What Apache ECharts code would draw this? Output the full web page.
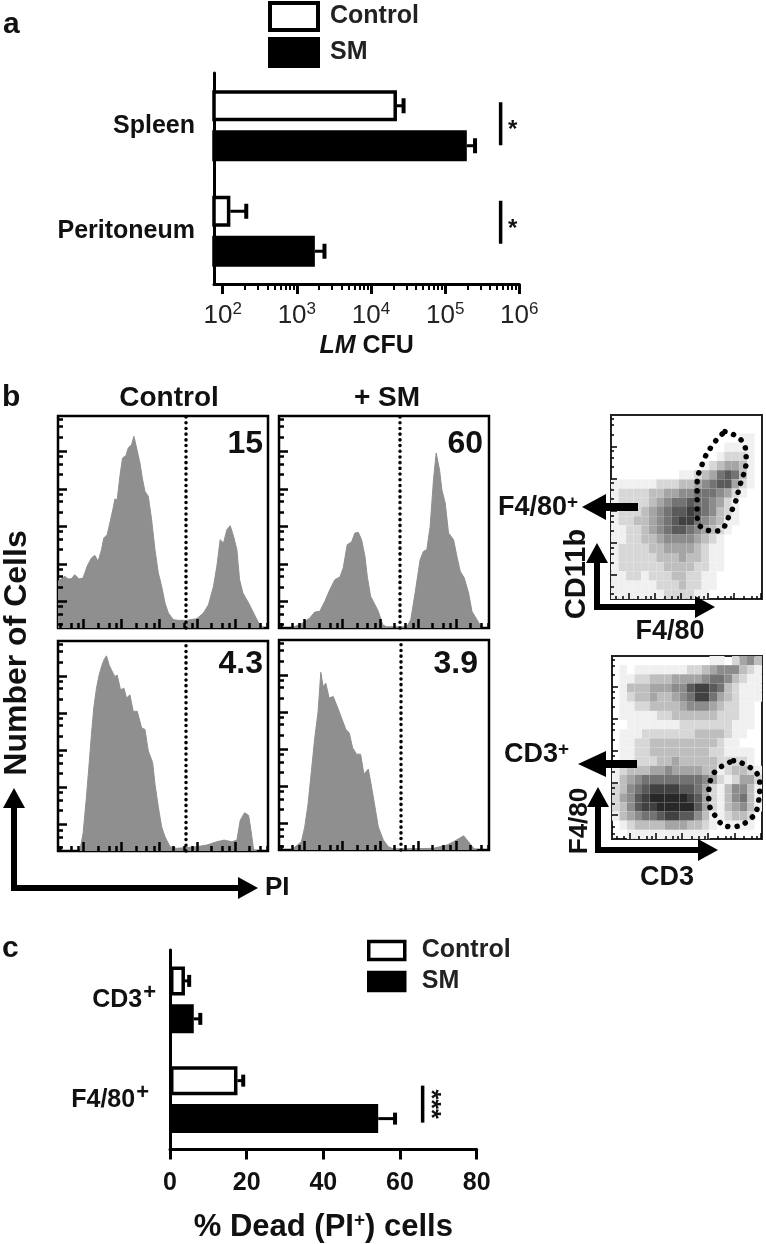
<!DOCTYPE html>
<html>
<head>
<meta charset="utf-8">
<title>LM CFU and PI staining</title>
<style>
  html, body { margin: 0; background: #fff; }
  #chart { width: 766px; height: 1244px; }
</style>
<script src="https://cdn.jsdelivr.net/npm/echarts@6/dist/echarts.min.js"></script>
</head>
<body>
<div id="chart"></div>
<script>
// panel a, CFU on a log axis
const aCategories = ['Spleen', 'Peritoneum']
const aControl = [22400, 127]
const aControlHigh = [27500, 208]
const aSM = [196000, 1750]
const aSMHigh = [253000, 2360]
const aTicks = [100, 1000, 10000, 100000, 1000000]
const aMinorTicks = [200, 300, 400, 500, 600, 700, 800, 900, 2000, 3000, 4000, 5000, 6000, 7000, 8000, 9000,
  20000, 30000, 40000, 50000, 60000, 70000, 80000, 90000, 200000, 300000, 400000, 500000, 600000, 700000, 800000, 900000]
const aSig = [[560000, 0, '*'], [560000, 1, '*']]

// panel c, % dead cells
const cCategories = ['CD3+', 'F4/80+']
const cControl = [3.9, 17.6]
const cControlHigh = [5.0, 19.1]
const cSM = [6.2, 54.3]
const cSMHigh = [7.9, 58.7]
const cSig = [[65.9, 1, '***']]

// panel b, PI histograms: [channel, count]
const histControlTop = [[0, 140], [3, 145], [20, 155], [30, 147], [40, 148], [50, 160], [63, 147], [75, 150], [87, 185], [100, 210], [110, 218], [120, 200], [130, 235], [137, 270], [147, 280], [155, 315], [165, 360], [170, 387], [177, 385], [185, 455], [193, 510], [203, 517], [210, 540], [220, 550], [227, 575], [235, 540], [245, 495], [253, 445], [260, 410], [270, 395], [280, 325], [290, 235], [300, 165], [310, 125], [320, 75], [330, 45], [345, 25], [360, 23], [385, 23], [415, 28], [435, 45], [450, 70], [465, 125], [475, 185], [485, 265], [495, 255], [505, 295], [515, 307], [525, 275], [535, 235], [543, 145], [553, 105], [570, 75], [585, 45], [600, 15], [615, 0]]
const histSMTop = [[37, 0], [72, 15], [92, 30], [107, 48], [122, 50], [137, 80], [152, 115], [167, 145], [182, 153], [192, 180], [204, 250], [217, 258], [227, 285], [237, 287], [247, 265], [257, 215], [264, 155], [274, 95], [287, 70], [297, 50], [310, 10], [322, 3], [382, 3], [394, 25], [407, 105], [422, 205], [432, 230], [442, 235], [452, 305], [462, 445], [470, 525], [480, 475], [487, 415], [497, 375], [507, 285], [522, 265], [532, 215], [542, 170], [554, 150], [567, 105], [577, 50], [592, 25], [607, 0]]
const histControlBottom = [[65, 0], [75, 53], [85, 163], [93, 263], [100, 353], [107, 433], [115, 493], [123, 533], [130, 558], [137, 578], [145, 591], [153, 563], [160, 548], [170, 528], [177, 533], [187, 488], [197, 493], [205, 463], [215, 473], [225, 423], [237, 423], [250, 373], [260, 368], [270, 303], [283, 268], [290, 203], [300, 133], [310, 73], [320, 43], [335, 13], [355, 8], [415, 13], [445, 18], [475, 28], [497, 33], [520, 28], [535, 33], [545, 93], [558, 116], [570, 108], [577, 63], [585, 3], [595, 0]]
const histSMBottom = [[37, 0], [67, 25], [77, 70], [87, 140], [97, 240], [107, 340], [117, 420], [125, 538], [132, 495], [140, 505], [150, 460], [162, 465], [174, 435], [187, 400], [200, 365], [210, 355], [220, 310], [232, 290], [244, 290], [254, 230], [267, 245], [277, 190], [287, 130], [297, 70], [312, 30], [327, 10], [342, 3], [462, 5], [502, 15], [522, 25], [552, 43], [567, 25], [582, 5], [592, 0]]
const histCuts = [382, 360, 383, 363]
const histPercent = ['15', '60', '4.3', '3.9']
const histXTicks = [77, 190, 303, 416, 529]
const histXMinor = [7, 39, 61, 120, 152, 174, 233, 265, 287, 346, 378, 400, 459, 491, 513, 572, 604, 626]
const histYTicks = [80, 192, 305, 417, 530]
const histYMinor = [10, 42, 64, 123, 155, 177, 235, 267, 289, 348, 380, 402, 460, 492, 514, 573, 605, 627]

// dot plots: density read by eye on a 20 x 20 raster, top row first
const dotCD11b = [
  '00000000000000000000',
  '00000000000000000000',
  '00000000000000000110',
  '00000000000000011110',
  '00000000000000122210',
  '00000000000012344310',
  '00000000011234676310',
  '11111122233456774210',
  '12222334455666542100',
  '12222345667665421000',
  '12223456778765321000',
  '12233456788654311000',
  '11223456776543210000',
  '11223345555432100000',
  '12222334444321100000',
  '12222233343321100000',
  '12222223333221100000',
  '11221222332211000000',
  '11111122232211000000',
  '11111112222110000000'
]
const dotCD3 = [
  '00000000000001102453',
  '01011111112234555321',
  '01122333444456653211',
  '01333444557887632111',
  '01233433456886432111',
  '01122333345554322110',
  '01111122333333222110',
  '00111111122222221110',
  '01112222222333321100',
  '01122333333333211000',
  '01122333333332211110',
  '01122233433333222210',
  '12333445444433123321',
  '13456666666654212442',
  '23567888877642135531',
  '24578999998742135631',
  '23578899999742134531',
  '13456678877531123320',
  '01233334443321011110',
  '00111111111110000000'
]
const gateCD11b = [[15.1, 18.2], [17.4, 17.1], [17.9, 15.3], [17.1, 12.4], [15.8, 9.3], [14.0, 7.4], [12.1, 7.7], [11.4, 9.7], [11.4, 12.2], [12.1, 14.7], [13.6, 16.9], [15.1, 18.2]]
const gateCD3 = [[16.2, 8.55], [18.6, 7.7], [19.7, 6.1], [19.5, 3.9], [18.0, 1.9], [15.7, 1.35], [13.7, 2.6], [12.9, 4.6], [13.3, 6.8], [16.2, 8.55]]
const dotXTicks = [2.3, 5.8, 9.3, 12.8, 16.3, 19.8]
const dotXMinor = [3.6, 4.6, 5.3, 7.1, 8.1, 8.8, 10.6, 11.6, 12.3, 14.1, 15.1, 15.8, 17.6, 18.6, 19.3, 0.6, 1.5]
const dotYTicks = [2.6, 6.1, 9.6, 13.1, 16.6]
const dotYMinor = [3.9, 4.9, 5.6, 7.4, 8.4, 9.1, 10.9, 11.9, 12.6, 14.4, 15.4, 16.1, 17.9, 18.9, 19.6, 1.3, 0.6]

const FONT = '"Liberation Sans", Arial, sans-serif'
const grids = []
const xAxes = []
const yAxes = []
const series = []

function addGrid(box) {
  grids.push(Object.assign({ containLabel: false }, box))
  return grids.length - 1
}

// plain bar panel (a and c) share this
function addBars(g, cats, control, controlHigh, sm, smHigh, barW, barGap, capH, sig, sigDy, sigHalf, sigStar, labelMargin) {
  const x = xAxes.length - 1
  const y = yAxes.length
  const sup = { fontFamily: FONT, fontWeight: 'bold', fontSize: 22, color: '#111' }
  yAxes.push({
    gridIndex: g, type: 'category', inverse: true, data: cats,
    axisLine: { onZero: false, lineStyle: { color: '#000', width: 3 } },
    axisTick: { alignWithLabel: true, length: 10, lineStyle: { color: '#000', width: 3 } },
    axisLabel: {
      color: '#111', fontFamily: FONT, fontWeight: 'bold', fontSize: 25, margin: labelMargin,
      formatter: v => {
        if (!v.endsWith('+')) return v
        return v.slice(0, -1) + (v.startsWith('F') ? '{p|+}' : '{s|+}')
      },
      rich: {
        s: Object.assign({ padding: [0, 0, 14, 1] }, sup),
        p: Object.assign({ padding: [0, 7, 14, 1] }, sup)
      }
    }
  })
  const bar = (name, data, fill) => ({
    name, type: 'bar', xAxisIndex: x, yAxisIndex: y, data,
    barWidth: barW, barGap, z: 3,
    itemStyle: { color: fill, borderColor: '#000', borderWidth: 3.5 }
  })
  series.push(bar('Control', control, '#fff'), bar('SM', sm, '#000'))
  const offset = (barW + barW * parseFloat(barGap) / 100) / 2
  const err = (low, high, dy) => ({
    type: 'custom', xAxisIndex: x, yAxisIndex: y, z: 2,
    data: high.map((h, i) => [low[i], h, i]),
    renderItem(params, api) {
      const a = api.coord([api.value(0), api.value(2)])
      const b = api.coord([api.value(1), api.value(2)])
      const yy = a[1] + dy
      const line = { stroke: '#000', lineWidth: 3 }
      return {
        type: 'group',
        children: [
          { type: 'line', shape: { x1: a[0], y1: yy, x2: b[0], y2: yy }, style: line },
          { type: 'line', shape: { x1: b[0], y1: yy - capH / 2, x2: b[0], y2: yy + capH / 2 }, style: { stroke: '#000', lineWidth: 4 } }
        ]
      }
    }
  })
  series.push(err(control, controlHigh, -offset), err(sm, smHigh, offset))
  // significance bar with its stars
  series.push({
    type: 'custom', xAxisIndex: x, yAxisIndex: y, z: 4,
    data: sig.map(s => [s[0], s[1], s[2]]),
    renderItem(params, api) {
      const i = api.value(1)
      const p = api.coord([api.value(0), i])
      const cy = p[1] + sigDy[i]
      return {
        type: 'group',
        children: [
          { type: 'line', shape: { x1: p[0], y1: cy - sigHalf, x2: p[0], y2: cy + sigHalf }, style: { stroke: '#000', lineWidth: 3.5 } },
          {
            type: 'text', x: p[0] + sigStar.dx, y: cy + sigStar.dy, rotation: sigStar.rot,
            style: { text: sig[params.dataIndex][2], fontFamily: FONT, fontWeight: 'bold', fontSize: sigStar.size, fill: '#111', align: 'center', verticalAlign: 'middle' }
          }
        ]
      }
    }
  })
}

// panel a
const gA = addGrid({ left: 214, top: 73, width: 305.3, height: 211 })
xAxes.push({
  gridIndex: gA, type: 'log', logBase: 10, min: 76.4, max: 1000000, position: 'bottom',
  splitLine: { show: false },
  axisLine: { show: true, onZero: false, lineStyle: { color: '#000', width: 3 } },
  axisTick: { show: true, customValues: aMinorTicks, length: 6, lineStyle: { color: '#000', width: 2 } },
  axisLabel: { show: false }
})
xAxes.push({
  gridIndex: gA, type: 'log', logBase: 10, min: 76.4, max: 1000000, position: 'bottom',
  name: '{i|LM}{b| CFU}', nameLocation: 'middle', nameGap: 50,
  nameTextStyle: {
    rich: {
      i: { fontFamily: FONT, fontWeight: 'bold', fontStyle: 'italic', fontSize: 25, color: '#111' },
      b: { fontFamily: FONT, fontWeight: 'bold', fontSize: 25, color: '#111' }
    }
  },
  splitLine: { show: false },
  axisLine: { show: false, onZero: false },
  axisTick: { show: true, customValues: aTicks, length: 10, lineStyle: { color: '#000', width: 3 } },
  axisLabel: {
    customValues: aTicks, margin: 17, color: '#222',
    formatter: v => '{b|10}{s|' + Math.round(Math.log10(v)) + '}',
    rich: {
      b: { fontFamily: FONT, fontSize: 26, color: '#222' },
      s: { fontFamily: FONT, fontSize: 17, color: '#222', padding: [0, 0, 12, 0] }
    }
  }
})
addBars(gA, aCategories, aControl, aControlHigh, aSM, aSMHigh, 31, '29%', 15, aSig, [-2, -9], 21.5, { dx: 12, dy: 7, rot: 0, size: 24 }, 19)

// panel c
const gC = addGrid({ left: 170, top: 950, width: 306.7, height: 201 })
xAxes.push({
  gridIndex: gC, type: 'value', min: 0, max: 80, interval: 20, position: 'bottom',
  name: '% Dead (PI{s|+}) cells', nameLocation: 'middle', nameGap: 62,
  nameTextStyle: {
    fontFamily: FONT, fontWeight: 'bold', fontSize: 31, color: '#111',
    rich: { s: { fontFamily: FONT, fontWeight: 'bold', fontSize: 19, color: '#111', padding: [0, 0, 13, 0] } }
  },
  splitLine: { show: false },
  axisLine: { show: true, onZero: false, lineStyle: { color: '#000', width: 3 } },
  axisTick: { show: true, length: 10, lineStyle: { color: '#000', width: 3 } },
  axisLabel: { color: '#111', fontFamily: FONT, fontWeight: 'bold', fontSize: 25, margin: 21 }
})
addBars(gC, cCategories, cControl, cControlHigh, cSM, cSMHigh, 29, '31%', 12, cSig, [0, 4.5], 18.5, { dx: 7, dy: 0, rot: -Math.PI / 2, size: 25 }, 14)

// histograms with their ticks
function frameAxes(g, xMax, yMax, xTicks, xMinor, yTicks, yMinor, longLen, shortLen, lineW) {
  const idx = [xAxes.length, yAxes.length]
  const mk = (ticks, len, max, pos) => ({
    gridIndex: g, type: 'value', min: 0, max, position: pos, z: 6,
    splitLine: { show: false }, axisLabel: { show: false },
    axisLine: { show: false, onZero: false },
    axisTick: { show: true, customValues: ticks, inside: true, length: len, lineStyle: { color: '#000', width: lineW } }
  })
  xAxes.push(mk(xTicks, longLen, xMax, 'bottom'), mk(xMinor, shortLen, xMax, 'bottom'))
  yAxes.push(mk(yTicks, longLen, yMax, 'left'), mk(yMinor, shortLen, yMax, 'left'))
  return idx
}

const histBoxes = [
  { left: 58, top: 416, width: 210, height: 212 },
  { left: 279, top: 416, width: 210, height: 212 },
  { left: 58, top: 641, width: 210, height: 210 },
  { left: 279, top: 640, width: 210, height: 210 }
]
const histData = [histControlTop, histSMTop, histControlBottom, histSMBottom]
histBoxes.forEach((box, i) => {
  const g = addGrid(Object.assign({ show: true, backgroundColor: '#fff', borderColor: '#000', borderWidth: 2.5 }, box))
  const [xi, yi] = frameAxes(g, 628, 636, histXTicks, histXMinor, histYTicks, histYMinor, 9, 5, 2.5)
  series.push({
    type: 'line', xAxisIndex: xi, yAxisIndex: yi, data: histData[i],
    showSymbol: false, silent: true, z: 1,
    lineStyle: { color: '#8f8f8f', width: 1 },
    areaStyle: { color: '#8f8f8f', opacity: 1 },
    markLine: {
      silent: true, symbol: 'none', animation: false, label: { show: false }, z: 5,
      lineStyle: { color: '#000', width: 3.5, type: [0.1, 5.6], cap: 'round' },
      data: [{ xAxis: histCuts[i] }]
    }
  })
})

// dot plots, drawn cell by cell from the density rasters
function addDots(box, raster, gate) {
  const g = addGrid(Object.assign({ show: true, backgroundColor: '#fff', borderColor: '#222', borderWidth: 2 }, box))
  const [xi, yi] = frameAxes(g, 20, 20, dotXTicks, dotXMinor, dotYTicks, dotYMinor, 6, 3, 1.5)
  const cells = []
  raster.forEach((row, r) => row.split('').forEach((d, c) => { if (d !== '0') cells.push([c, 19 - r, +d]) }))
  series.push({
    type: 'custom', xAxisIndex: xi, yAxisIndex: yi, z: 1, data: cells,
    renderItem(params, api) {
      const a = api.coord([api.value(0), api.value(1) + 1])
      const b = api.coord([api.value(0) + 1, api.value(1)])
      const shade = Math.round(240 - (api.value(2) - 1) * 25)
      return {
        type: 'rect',
        shape: { x: a[0], y: a[1], width: b[0] - a[0], height: b[1] - a[1] },
        style: { fill: 'rgb(' + shade + ',' + shade + ',' + shade + ')' }
      }
    }
  })
  series.push({
    type: 'line', xAxisIndex: xi, yAxisIndex: yi, data: gate, smooth: 0.5, z: 4,
    showSymbol: false, silent: true,
    lineStyle: { color: '#000', width: 5.5, type: [0.1, 9], cap: 'round' }
  })
}
addDots({ left: 611, top: 415, width: 151, height: 184 }, dotCD11b, gateCD11b)
addDots({ left: 612, top: 656, width: 150, height: 183 }, dotCD3, gateCD3)

// loose text and arrows
const bold = (text, x, y, size, align, rot) => ({
  type: 'text', x, y, rotation: rot || 0, z: 20,
  style: {
    text, fontFamily: FONT, fontWeight: 'bold', fontSize: size, fill: '#111',
    align: align || 'center', verticalAlign: 'middle',
    rich: { s: { fontFamily: FONT, fontWeight: 'bold', fontSize: size * 0.7, fill: '#111', padding: [0, 0, 10, 0] } }
  }
})
const poly = pts => ({ type: 'polygon', z: 20, shape: { points: pts }, style: { fill: '#000' } })
const lArrow = (x0, y0, yTip, xTip, w, head) => [
  { type: 'polyline', z: 20, shape: { points: [[x0, yTip + head - 2], [x0, y0], [xTip - head + 2, y0]] }, style: { stroke: '#000', lineWidth: w, fill: 'none' } },
  poly([[x0, yTip], [x0 + head / 2 + 1, yTip + head], [x0 - head / 2 - 1, yTip + head]]),
  poly([[xTip, y0], [xTip - head, y0 - head / 2 - 1], [xTip - head, y0 + head / 2 + 1]])
]
const leftArrow = (xTip, xBase, xEnd, y) => [
  poly([[xTip, y], [xBase, y - 13], [xBase, y + 13]]),
  { type: 'rect', z: 20, shape: { x: xBase - 1, y: y - 4, width: xEnd - xBase + 1, height: 8 }, style: { fill: '#000' } }
]
const graphics = [
  bold('a', 3, 25, 30, 'left'),
  bold('b', 2, 398, 30, 'left'),
  bold('c', 2, 949, 30, 'left'),
  bold('Control', 169, 398, 28),
  bold('+ SM', 387, 398, 28),
  bold(histPercent[0], 263, 444, 32, 'right'),
  bold(histPercent[1], 483, 444, 32, 'right'),
  bold(histPercent[2], 263, 664, 32, 'right'),
  bold(histPercent[3], 478, 664, 32, 'right'),
  bold('Number of Cells', 17, 653, 32, 'center', Math.PI / 2),
  bold('PI', 265, 888, 26, 'left'),
  bold('F4/80{s|+}', 578, 508, 27, 'right'),
  bold('CD11b', 577, 574, 29, 'center', Math.PI / 2),
  bold('F4/80', 670, 632, 27),
  bold('CD3{s|+}', 569, 755, 27, 'right'),
  bold('F4/80', 580, 821, 26, 'center', Math.PI / 2),
  bold('CD3', 667, 878, 27)
].concat(
  lArrow(14, 888, 788, 258, 6, 20),
  lArrow(597, 607, 543, 715, 6, 20),
  lArrow(598, 850, 787, 718, 6, 20),
  leftArrow(582, 606, 638, 507),
  leftArrow(578, 606, 637, 764)
)

const legendText = (size, gap) => ({ fontFamily: FONT, fontWeight: 'bold', fontSize: size, color: '#222', padding: [0, 0, 0, gap] })
const option = {
  animation: false,
  backgroundColor: '#fff',
  textStyle: { fontFamily: FONT },
  legend: [
    { left: 268, top: 1, padding: 0, orient: 'vertical', itemWidth: 48, itemHeight: 27, itemGap: 5, data: ['Control', 'SM'], selectedMode: false, textStyle: legendText(25, 7), icon: 'rect', itemStyle: { borderColor: '#000', borderWidth: 4 } },
    { left: 367, top: 938, padding: 0, orient: 'vertical', itemWidth: 36, itemHeight: 18, itemGap: 6, data: ['Control', 'SM'], selectedMode: false, textStyle: legendText(25, 12), icon: 'rect', itemStyle: { borderColor: '#000', borderWidth: 3.5 } }
  ],
  grid: grids,
  xAxis: xAxes,
  yAxis: yAxes,
  series,
  graphic: graphics
}

const chart = echarts.init(document.getElementById('chart'), null, { renderer: 'canvas' })
chart.setOption(option)
</script>
</body>
</html>
